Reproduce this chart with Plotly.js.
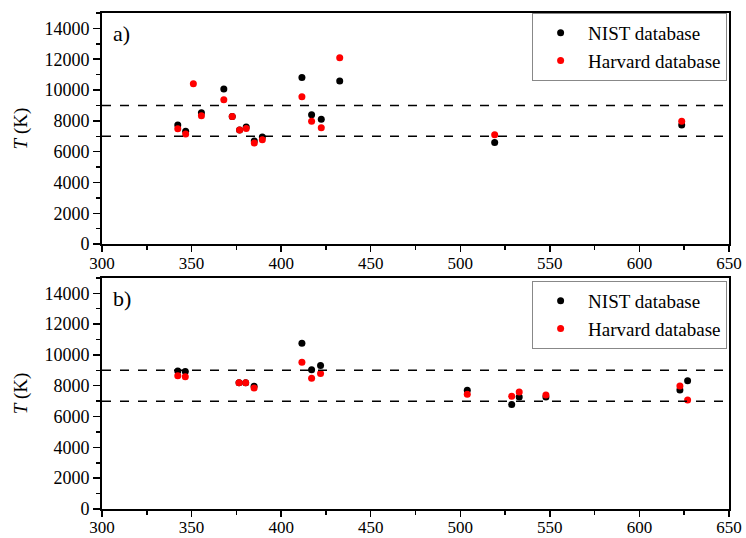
<!DOCTYPE html>
<html><head><meta charset="utf-8">
<script src="https://cdn.plot.ly/plotly-3.0.1.min.js"></script>
<style>html,body{margin:0;padding:0;background:#fff;}</style>
</head><body><div id="chart" style="width:746px;height:538px;"></div>
<script>
// Panel a)
const aNistX = [342.3, 346.7, 355.5, 368.0, 372.7, 376.8, 380.5, 385.0, 389.5, 411.6, 417.0, 422.4, 432.7, 519.2, 623.6];
const aNistT = [7730, 7320, 8530, 10070, 8290, 7400, 7600, 6700, 6950, 10820, 8400, 8100, 10580, 6600, 7730];
const aHarvX = [342.3, 346.7, 351.0, 355.5, 368.0, 372.7, 376.8, 380.5, 385.0, 389.5, 411.6, 417.0, 422.4, 432.7, 519.2, 623.6];
const aHarvT = [7490, 7140, 10410, 8330, 9370, 8290, 7400, 7510, 6560, 6780, 9570, 7970, 7550, 12100, 7100, 7970];
// Panel b)
const bNistX = [342.3, 346.5, 376.5, 380.2, 384.9, 411.6, 417.0, 422.0, 503.9, 528.7, 532.9, 547.8, 622.6, 626.9];
const bNistT = [8960, 8920, 8200, 8200, 7970, 10760, 9030, 9310, 7710, 6780, 7270, 7270, 7730, 8330];
const bHarvX = [342.3, 346.5, 376.5, 380.2, 384.9, 411.6, 417.0, 422.0, 503.9, 528.7, 532.9, 547.8, 622.6, 626.9];
const bHarvT = [8640, 8590, 8200, 8200, 7860, 9520, 8490, 8790, 7450, 7320, 7600, 7400, 7990, 7080];
// Reference levels (dashed)
const refLevels = [7000, 9000];
const seriesNames = ["NIST database", "Harvard database"];
const yTicks = [0, 2000, 4000, 6000, 8000, 10000, 12000, 14000];

const serif = "Liberation Serif";
const mk = (c) => ({color: c, size: 7});

const traces = [
  {x: aNistX, y: aNistT, mode: "markers", name: seriesNames[0], marker: mk("#000"), xaxis: "x", yaxis: "y", legend: "legend"},
  {x: aHarvX, y: aHarvT, mode: "markers", name: seriesNames[1], marker: mk("#ff0000"), xaxis: "x", yaxis: "y", legend: "legend"},
  {x: bNistX, y: bNistT, mode: "markers", name: seriesNames[0], marker: mk("#000"), xaxis: "x2", yaxis: "y2", legend: "legend2"},
  {x: bHarvX, y: bHarvT, mode: "markers", name: seriesNames[1], marker: mk("#ff0000"), xaxis: "x2", yaxis: "y2", legend: "legend2"}
];

const xax = (anchor) => ({
  range: [300, 650], dtick: 50, ticks: "outside", ticklen: 6, tickwidth: 1.5, tickcolor: "#000",
  minor: {ticks: "outside", dtick: 25, ticklen: 4, tickwidth: 1.5, tickcolor: "#000"},
  showline: true, mirror: true, linecolor: "#000", linewidth: 2, showgrid: false, zeroline: false,
  tickfont: {family: serif, size: 17, color: "#000"}, ticklabelstandoff: -4, anchor: anchor, domain: [0, 1]
});
const yax = (anchor, domain) => ({
  range: [0, 15000], tickvals: yTicks, tickformat: "d", ticks: "outside", ticklen: 7, tickwidth: 1.5, tickcolor: "#000",
  minor: {ticks: "outside", dtick: 1000, ticklen: 4, tickwidth: 1.5, tickcolor: "#000"},
  showline: true, mirror: true, linecolor: "#000", linewidth: 2, showgrid: false, zeroline: false,
  tickfont: {family: serif, size: 18, color: "#000"}, anchor: anchor, domain: domain,
  title: {text: "<i>T</i> (K)", font: {family: serif, size: 19, color: "#000"}, standoff: 12}
});

const shapes = [];
[["x","y"],["x2","y2"]].forEach(([xa, ya]) => {
  refLevels.forEach(v => shapes.push({type: "line", xref: xa + " domain", yref: ya, x0: 0, x1: 1, y0: v, y1: v,
    line: {color: "#000", width: 1.5, dash: "dash"}}));
});

const leg = (y) => ({x: 0.997, xanchor: "right", y: y, yanchor: "top", bgcolor: "#fff", bordercolor: "#888", borderwidth: 1,
  font: {family: serif, size: 19, color: "#000"}, tracegroupgap: 0, itemwidth: 45});

const layout = {
  width: 746, height: 538,
  margin: {l: 102, r: 17, t: 13, b: 29},
  paper_bgcolor: "#fff", plot_bgcolor: "#fff",
  font: {family: serif, color: "#000"},
  showlegend: true,
  xaxis: xax("y"), yaxis: yax("x", [0.534, 1]),
  xaxis2: xax("y2"), yaxis2: yax("x2", [0, 0.466]),
  legend: leg(1), legend2: leg(0.46),
  shapes: shapes,
  annotations: [
    {text: "a)", xref: "x domain", yref: "y domain", x: 0.014, y: 0.975, xanchor: "left", yanchor: "top", showarrow: false, font: {family: serif, size: 22, color: "#000"}},
    {text: "b)", xref: "x2 domain", yref: "y2 domain", x: 0.014, y: 0.975, xanchor: "left", yanchor: "top", showarrow: false, font: {family: serif, size: 22, color: "#000"}}
  ]
};
Plotly.newPlot("chart", traces, layout, {displayModeBar: false, staticPlot: true});
</script></body></html>
